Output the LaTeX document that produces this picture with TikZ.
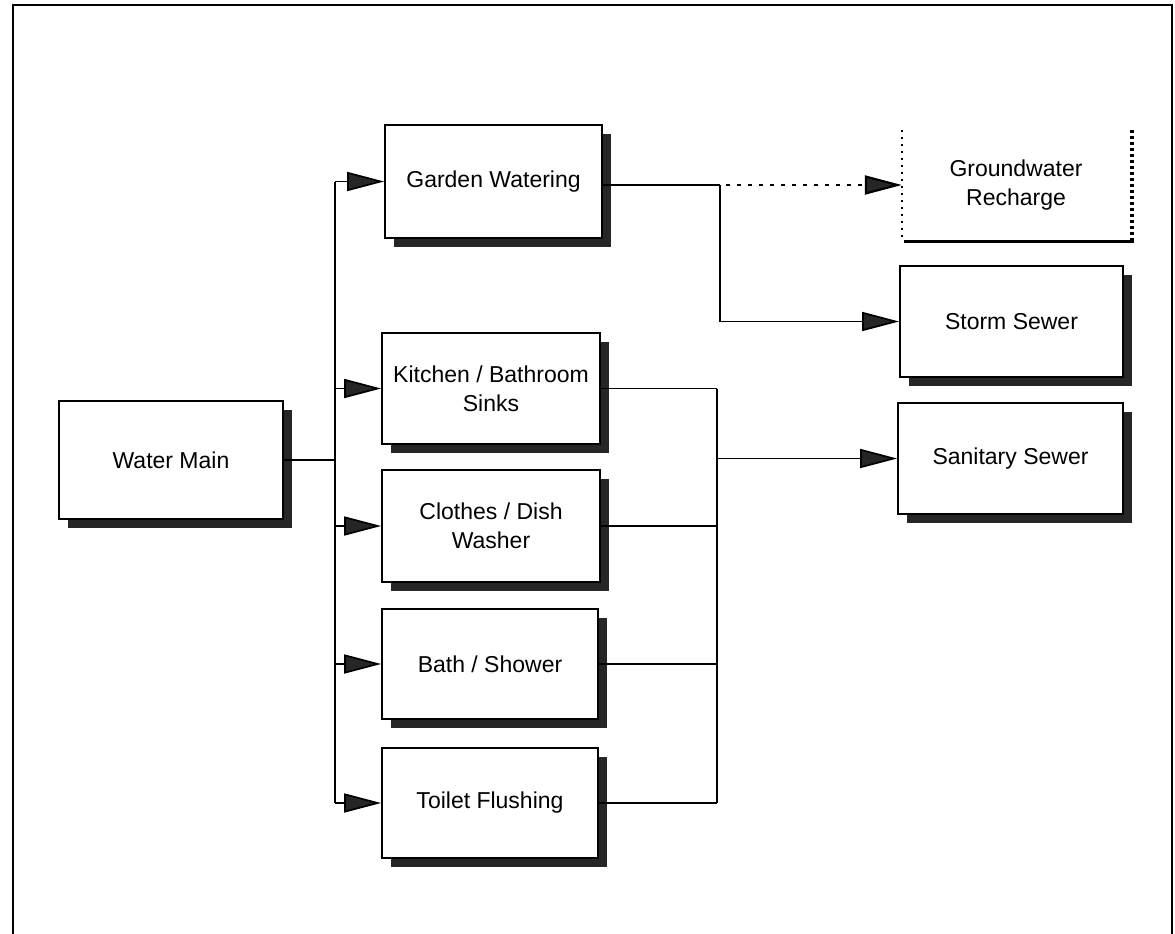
\documentclass[tikz,border=0pt]{standalone}
\usepackage{fontspec}
\setmainfont{Liberation Sans}
\usetikzlibrary{arrows.meta,shadows}
\begin{document}
\begin{tikzpicture}[x=1pt,y=-1pt,
  box/.style={draw=black, line width=1.8pt, fill=white, inner sep=2pt, align=center,
    font=\fontsize{23}{29}\selectfont,
    drop shadow={shadow xshift=9pt, shadow yshift=-9pt, fill=black!85, opacity=1}},
  openbox/.style={inner sep=2pt, align=center, font=\fontsize{23}{29}\selectfont},
  conn/.style={line width=1.7pt, draw=black},
  arr/.style={conn, -{Triangle[length=37pt,width=19pt,fill=black!85]}},
  dotarr/.style={arr, line width=2.2pt, dash pattern=on 4pt off 7pt},
  frame/.style={line width=1.6pt}
]
\useasboundingbox (0,0) rectangle (1175,934);
\draw[frame] (13,934) -- (13,5) -- (1172,5) -- (1172,934);

% nodes
\node[box, minimum width=224pt, minimum height=118pt] (wm) at (171,460) {Water Main};
\node[box, minimum width=217pt, minimum height=113pt] (gw) at (493.5,181.5) {Garden Watering};
\node[box, minimum width=218pt, minimum height=111pt] (ks) at (491,388.5) {Kitchen / Bathroom\\Sinks};
\node[box, minimum width=218pt, minimum height=112pt] (cd) at (491,526) {Clothes / Dish\\Washer};
\node[box, minimum width=216pt, minimum height=110pt] (bs) at (490,664) {Bath / Shower};
\node[box, minimum width=216pt, minimum height=110pt] (tf) at (490,803) {Toilet Flushing};
\node[openbox, minimum width=228pt, minimum height=110pt] (gr) at (1016,185) {Groundwater\\Recharge};
\node[box, minimum width=223pt, minimum height=111pt] (ss) at (1011.5,321.5) {Storm Sewer};
\node[box, minimum width=225pt, minimum height=111pt] (sa) at (1010.5,458.5) {Sanitary Sewer};

% groundwater recharge open box
\draw[line width=2pt, dash pattern=on 2pt off 5pt] (gr.north west) -- (gr.south west);
\draw[line width=4.5pt, dash pattern=on 3pt off 3pt] ([xshift=2pt]gr.north east) -- ([xshift=2pt]gr.south east);
\draw[line width=3pt] ([xshift=2pt,yshift=-1pt]gr.south west) -- ([xshift=4pt,yshift=-1pt]gr.south east);

% supply side
\coordinate (j) at (335,460);
\draw[conn] (wm.east) -- (j);
\draw[conn] (gw.west -| j) -- (tf.west -| j);
\foreach \n in {gw,ks,cd,bs,tf}{
  \draw[arr] (\n.west -| j) -- (\n.west);
}

% garden outflow
\coordinate (c) at (720,185);
\draw[conn] (gw.east |- c) -- (c);
\draw[dotarr] ([xshift=6pt]c) -- (gr.west);
\draw[conn] (c) -- (ss.west -| c);
\draw[arr] (ss.west -| c) -- (ss.west);

% sanitary collection
\coordinate (k) at (717,463);
\draw[conn] (ks.east) -- (ks.east -| k);
\draw[conn] (ks.east -| k) -- (tf.east -| k);
\draw[conn] (cd.east) -- (cd.east -| k);
\draw[conn] (bs.east) -- (bs.east -| k);
\draw[conn] (tf.east) -- (tf.east -| k);
\draw[arr] (sa.west -| k) -- (sa.west);
\end{tikzpicture}
\end{document}
